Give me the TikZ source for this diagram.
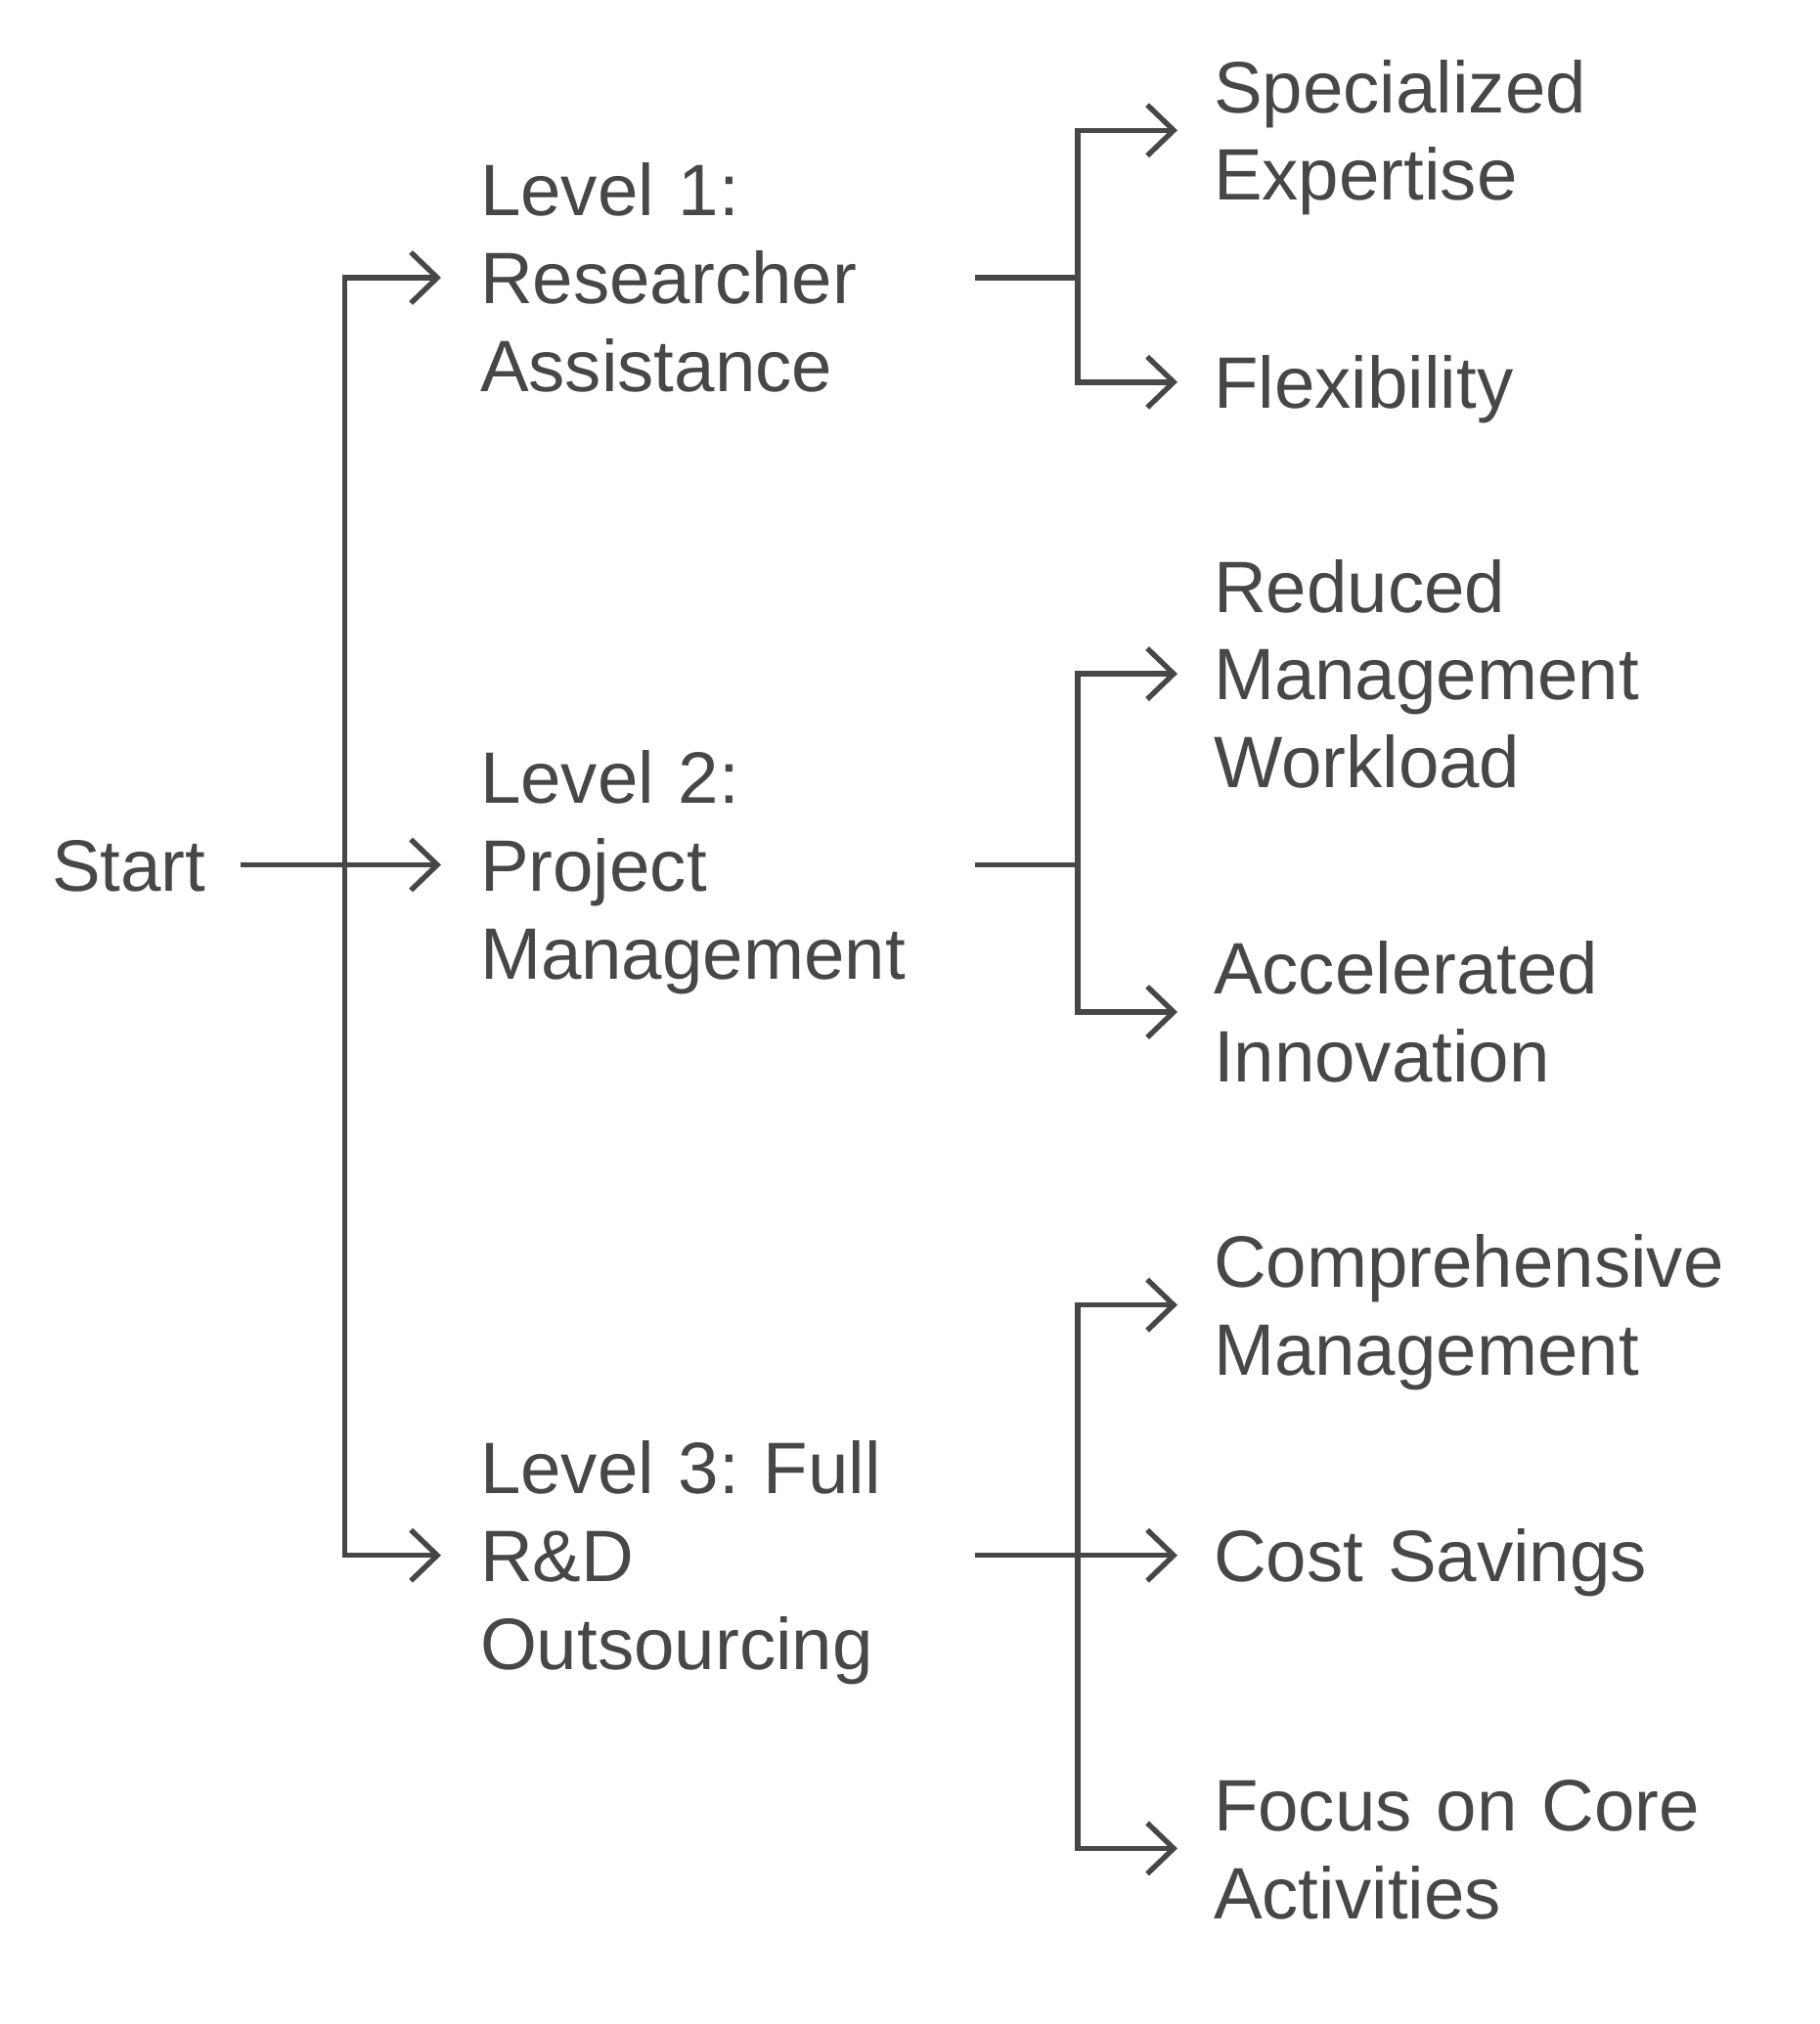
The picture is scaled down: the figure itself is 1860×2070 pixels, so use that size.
\documentclass[tikz,border=0pt]{standalone}
\usepackage{fontspec}
\setmainfont{Liberation Sans}[WordSpace=0.88]
\usetikzlibrary{arrows.meta}
\definecolor{ink}{HTML}{474747}
\begin{document}
\begin{tikzpicture}[x=0.5pt,y=-0.5pt,
  every node/.style={inner sep=0pt, text=ink, font=\fontsize{37.25pt}{44.9pt}\selectfont\frenchspacing, align=left, anchor=west},
  lvl/.style={outer xsep=20pt, text width=233pt},
  leaf/.style={outer xsep=18.5pt, text width=300pt},
  one/.style={text height=26.7pt, text depth=0pt},
  two/.style={text height=26.7pt, text depth=44.9pt},
  three/.style={text height=26.7pt, text depth=89.8pt},
  link/.style={draw=ink, line width=2.7pt},
  arr/.style={link, -{Straight Barb[length=13.5pt,width=26pt]}}]
\useasboundingbox (0,0) rectangle (1860,2070);
% nodes
\node[one, outer xsep=18pt] (start) at (17,884.5) {Start};
\node[lvl,three] (l1) at (451,284) {Level 1:\\Researcher\\Assistance};
\node[lvl,three] (l2) at (451,884.5) {Level 2:\\Project\\Management};
\node[lvl,three] (l3) at (451,1590.7) {Level 3: Full\\R\&D\\Outsourcing};
\node[leaf,two] (spec) at (1204,133.3) {Specialized\\Expertise};
\node[leaf,one] (flex) at (1204,390.8) {Flexibility};
\node[leaf,three] (red) at (1204,689.1) {Reduced\\Management\\Workload};
\node[leaf,two] (acc) at (1204,1035) {Accelerated\\Innovation};
\node[leaf,two] (comp) at (1204,1334.6) {Comprehensive\\Management};
\node[leaf,one] (cost) at (1204,1590.7) {Cost Savings};
\node[leaf,two] (focus) at (1204,1890.4) {Focus on Core\\Activities};
% junctions
\coordinate (trunk) at (352.5,884.5);
\coordinate (j1) at (1102,284);
\coordinate (j2) at (1102,884.5);
\coordinate (j3) at (1102,1590.7);
% connectors
\draw[arr] (start.east) -- (l2.west);
\draw[arr] (trunk) |- (l1.west);
\draw[arr] (trunk) |- (l3.west);
\draw[link] (l1.east) -- (j1);
\draw[arr] (j1) |- (spec.west);
\draw[arr] (j1) |- (flex.west);
\draw[link] (l2.east) -- (j2);
\draw[arr] (j2) |- (red.west);
\draw[arr] (j2) |- (acc.west);
\draw[arr] (l3.east) -- (cost.west);
\draw[arr] (j3) |- (comp.west);
\draw[arr] (j3) |- (focus.west);
\end{tikzpicture}
\end{document}
